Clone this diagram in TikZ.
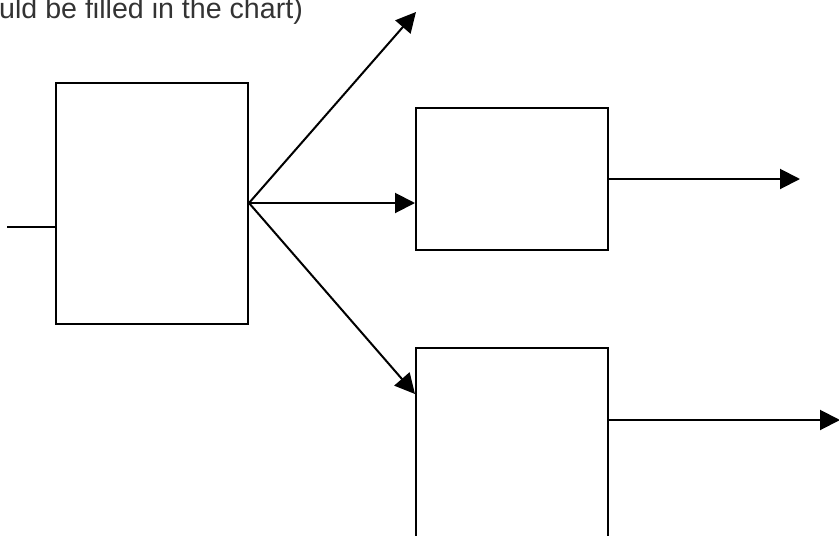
\documentclass[tikz,border=0pt]{standalone}
\usepackage{fontspec}
\setmainfont{Liberation Sans}
\usetikzlibrary{arrows.meta,calc}
\begin{document}
\begin{tikzpicture}[x=1pt,y=-1pt,
  box/.style={draw=black,line width=2pt,rectangle,inner sep=0pt},
  link/.style={draw=black,line width=2pt},
  arr/.style={link,-{Triangle[length=20pt,width=20pt]}}]
  \useasboundingbox (0,0) rectangle (839,536);
  \clip (0,0) rectangle (839,536);
  % caption line at the top left
  \node[anchor=base west,inner sep=0pt,text=black!80,font=\fontsize{28.6}{32}\selectfont]
    (caption) at (-1,18) {uld be filled in the chart)};
  % blocks
  \node[box,minimum width=192pt,minimum height=241pt] (b1) at (152,203) {};
  \node[box,minimum width=192pt,minimum height=142pt] (b2) at (512,179) {};
  \node[box,minimum width=192pt,minimum height=240pt,anchor=north] (b3) at (512,347) {};
  % free ends
  \coordinate (in0) at (7,227);
  \coordinate (up) at (416,12);
  \coordinate (in3) at ($(b3.north west)+(0,47)$);
  \coordinate (out2) at (800,179);
  \coordinate (out3) at (840,420);
  % connectors
  \draw[link] (in0) -- (in0 -| b1.west);
  \draw[arr] (b1.east) -- (up);
  \draw[arr] (b1.east) -- (b1.east -| b2.west);
  \draw[arr] (b1.east) -- (in3);
  \draw[arr] (b2.east) -- (out2);
  \draw[arr] (b3.east |- out3) -- (out3);
\end{tikzpicture}
\end{document}
